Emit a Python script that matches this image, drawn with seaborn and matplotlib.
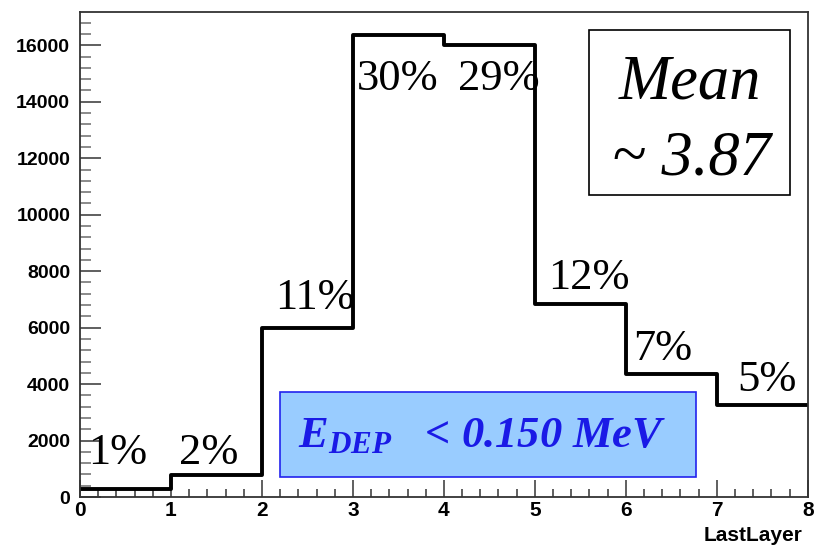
import numpy as np
import pandas as pd
import matplotlib
matplotlib.use("Agg")
import matplotlib.pyplot as plt
from matplotlib.patches import Rectangle
from matplotlib.ticker import MultipleLocator
import seaborn as sns

# Histogram contents (bins of width 1 from 0 to 8)
layers = [0, 1, 2, 3, 4, 5, 6, 7]
counts = [300, 780, 5970, 16360, 16000, 6820, 4350, 3250]
bin_edges = [0, 1, 2, 3, 4, 5, 6, 7, 8]

# Percent labels drawn above each bin
pct_labels = ["1%", "2%", "11%", "30%", "29%", "12%", "7%", "5%"]
pct_pos = [(0.42, 1550), (1.42, 1550), (2.58, 7060), (3.49, 14800),
           (4.60, 14800), (5.59, 7770), (6.40, 5230), (7.55, 4130)]

df = pd.DataFrame({"LastLayer": layers, "count": counts})

plt.rcParams["mathtext.fontset"] = "custom"
plt.rcParams["mathtext.it"] = "Liberation Serif:italic:bold"
plt.rcParams["mathtext.rm"] = "Liberation Serif:italic:bold"

fig = plt.figure(figsize=(8.16, 5.48), dpi=100)
ax = fig.add_axes([0.098, 0.093, 0.892, 0.885])

sns.histplot(data=df, x="LastLayer", weights="count", bins=bin_edges,
             element="step", fill=False, color="black", linewidth=2.8, ax=ax)

ax.set_xlim(0, 8)
ax.set_ylim(0, 1.05 * max(counts))
ax.set_ylabel("")
ax.set_xlabel("")

# ROOT style ticks
ax.xaxis.set_major_locator(MultipleLocator(1))
ax.xaxis.set_minor_locator(MultipleLocator(0.2))
ax.yaxis.set_major_locator(MultipleLocator(2000))
ax.yaxis.set_minor_locator(MultipleLocator(400))
ax.tick_params(which="both", direction="in", top=False, right=False,
               color="#444444")
ax.tick_params(axis="y", which="major", length=15, width=1.2, pad=7)
ax.tick_params(axis="y", which="minor", length=8, width=1.2, color="#777777")
ax.tick_params(axis="x", which="major", length=12, width=1.2, pad=3)
ax.tick_params(axis="x", which="minor", length=6, width=1.2)
for lab in ax.get_yticklabels():
    lab.set_fontfamily("Liberation Sans")
    lab.set_fontweight("bold")
    lab.set_fontsize(14)
for lab in ax.get_xticklabels():
    lab.set_fontfamily("Liberation Sans")
    lab.set_fontweight("bold")
    lab.set_fontsize(15)
for sp in ax.spines.values():
    sp.set_linewidth(1.3)
    sp.set_color("#333333")

fig.text(0.984, 0.005, "LastLayer", ha="right", va="bottom",
         family="Liberation Sans", weight="bold", fontsize=15)

for lab, (px, py) in zip(pct_labels, pct_pos):
    ax.text(px, py, lab, ha="center", va="center",
            family="Liberation Serif", fontsize=32)

# Mean box
ax.add_patch(Rectangle((0.699, 0.623), 0.276, 0.340, transform=ax.transAxes,
                       fc="white", ec="black", lw=1.2, zorder=3))
ax.text(0.838, 0.853, "Mean", transform=ax.transAxes, ha="center",
        va="center", family="Liberation Serif", style="italic", fontsize=45,
        zorder=4)
ax.text(0.840, 0.697, "~ 3.87", transform=ax.transAxes, ha="center",
        va="center", family="Liberation Serif", style="italic", fontsize=45,
        zorder=4)

# Energy cut box
ax.add_patch(Rectangle((0.275, 0.041), 0.571, 0.175, transform=ax.transAxes,
                       fc="#99ccff", ec="#2222ee", lw=1.2, zorder=3))
ax.text(0.552, 0.126, r"$E_{DEP}$   < 0.150 MeV", transform=ax.transAxes,
        ha="center", va="center", family="Liberation Serif",
        style="italic", weight="bold", fontsize=32, color="#1a1ae6",
        zorder=4)

fig.savefig("out.png", dpi=100)
